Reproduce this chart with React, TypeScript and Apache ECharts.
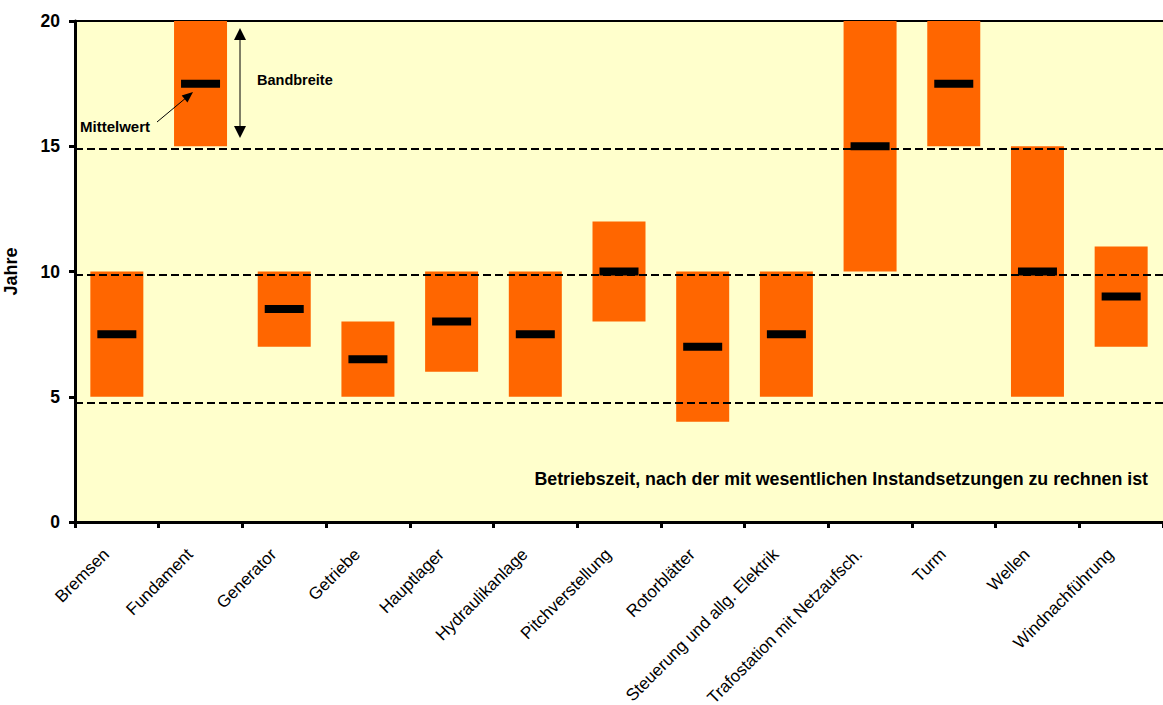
import React, { useEffect, useRef } from "react";
import * as echarts from "echarts";

const categories = [
  "Bremsen",
  "Fundament",
  "Generator",
  "Getriebe",
  "Hauptlager",
  "Hydraulikanlage",
  "Pitchverstellung",
  "Rotorblätter",
  "Steuerung und allg. Elektrik",
  "Trafostation mit Netzaufsch.",
  "Turm",
  "Wellen",
  "Windnachführung",
];
const lowValues = [5, 15, 7, 5, 6, 5, 8, 4, 5, 10, 15, 5, 7];
const highValues = [10, 20, 10, 8, 10, 10, 12, 10, 10, 20, 20, 15, 11];
const meanValues = [7.5, 17.5, 8.5, 6.5, 8, 7.5, 10, 7, 7.5, 15, 17.5, 10, 9];
const referenceLines = [4.78, 9.86, 14.9];
const yTicks = { min: 0, max: 20, interval: 5 };

const FONT = "'Liberation Sans', Arial, sans-serif";

export default function App() {
  const ref = useRef<HTMLDivElement>(null);
  useEffect(() => {
    if (!ref.current) return;
    const chart = echarts.init(ref.current, null, { renderer: "svg" });
    const rangeValues = highValues.map((h, i) => h - lowValues[i]);
    const head = (tip: number[], from: number[], len: number, half: number) => {
      const dx = tip[0] - from[0];
      const dy = tip[1] - from[1];
      const n = Math.sqrt(dx * dx + dy * dy);
      const ux = dx / n;
      const uy = dy / n;
      const bx = tip[0] - ux * len;
      const by = tip[1] - uy * len;
      return [tip, [bx - uy * half, by + ux * half], [bx + uy * half, by - ux * half]];
    };
    chart.setOption({
      animation: false,
      backgroundColor: "#ffffff",
      textStyle: { fontFamily: FONT },
      grid: {
        left: 75,
        top: 21,
        right: 0,
        bottom: 183,
        show: true,
        backgroundColor: "#FFFFCC",
        borderWidth: 0,
        containLabel: false,
        outerBoundsMode: "none",
      },
      xAxis: [
        {
          type: "category",
          data: categories,
          axisLine: { lineStyle: { color: "#000", width: 3 } },
          axisTick: { show: true, length: 6, lineStyle: { color: "#000", width: 3 } },
          axisLabel: {
            interval: 0,
            rotate: 45,
            color: "#000",
            fontSize: 17,
            fontFamily: FONT,
            margin: 19,
            padding: [0, 15, 0, 0],
          },
          splitLine: { show: false },
        },
        {
          type: "category",
          data: categories,
          position: "top",
          axisLine: { lineStyle: { color: "#000", width: 2 } },
          axisTick: { show: false },
          axisLabel: { show: false },
        },
      ],
      yAxis: {
        type: "value",
        min: yTicks.min,
        max: yTicks.max,
        interval: yTicks.interval,
        name: "Jahre",
        nameLocation: "middle",
        nameGap: 55,
        nameRotate: 90,
        nameTextStyle: { color: "#000", fontSize: 18, fontWeight: "bold", fontFamily: FONT },
        axisLine: { show: true, lineStyle: { color: "#000", width: 3 } },
        axisTick: { show: true, length: 6, lineStyle: { color: "#000", width: 3 } },
        axisLabel: { color: "#000", fontSize: 17.5, fontWeight: "bold", fontFamily: FONT, margin: 15 },
        splitLine: { show: false },
      },
      series: [
        {
          type: "bar",
          stack: "band",
          data: lowValues,
          barWidth: 53,
          itemStyle: { color: "transparent" },
          silent: true,
        },
        {
          type: "bar",
          stack: "band",
          data: rangeValues,
          barWidth: 53,
          itemStyle: { color: "#FF6600" },
        },
        {
          type: "scatter",
          data: meanValues,
          symbol: "rect",
          symbolSize: [39, 8],
          itemStyle: { color: "#000", opacity: 1 },
          z: 5,
          markLine: {
            silent: true,
            symbol: "none",
            label: { show: false },
            lineStyle: { color: "#000", width: 2, type: [8, 4], opacity: 1 },
            data: referenceLines.map((v) => ({ yAxis: v })),
          },
        },
      ],
      graphic: [
        {
          type: "text",
          left: 257,
          top: 72,
          z: 100,
          style: { text: "Bandbreite", font: `bold 14.5px ${FONT}`, fill: "#000" },
        },
        { type: "line", z: 100, shape: { x1: 240, y1: 36, x2: 240, y2: 130 }, style: { stroke: "#000", lineWidth: 1 } },
        { type: "polygon", z: 100, shape: { points: [[240, 28], [234, 40], [246, 40]] }, style: { fill: "#000" } },
        { type: "polygon", z: 100, shape: { points: [[240, 138], [234, 126], [246, 126]] }, style: { fill: "#000" } },
        {
          type: "text",
          left: 80,
          top: 119,
          z: 100,
          style: { text: "Mittelwert", font: `bold 15px ${FONT}`, fill: "#000" },
        },
        { type: "line", z: 100, shape: { x1: 157, y1: 122, x2: 187, y2: 97 }, style: { stroke: "#000", lineWidth: 1 } },
        { type: "polygon", z: 100, shape: { points: head([193, 92], [157, 122], 11, 4.5) }, style: { fill: "#000" } },
        {
          type: "text",
          right: 15,
          top: 470,
          z: 100,
          style: {
            text: "Betriebszeit, nach der mit wesentlichen Instandsetzungen zu rechnen ist",
            font: `bold 17.8px ${FONT}`,
            fill: "#000",
          },
        },
      ],
    });
    return () => chart.dispose();
  }, []);
  return (
    <div
      ref={ref}
      style={{ position: "fixed", left: 0, top: 0, width: 1163, height: 705 }}
    />
  );
}
